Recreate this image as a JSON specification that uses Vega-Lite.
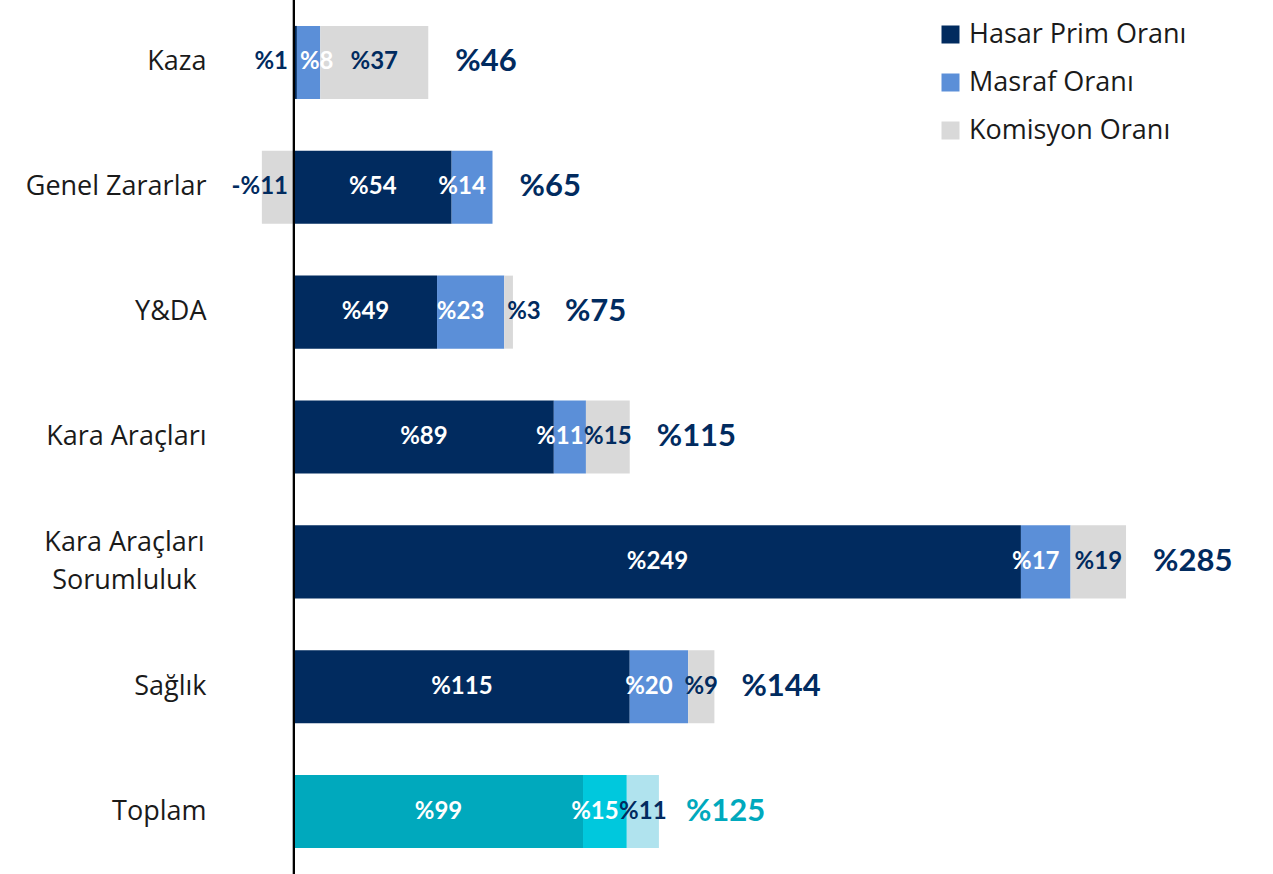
{
  "$schema": "https://vega.github.io/schema/vega-lite/v6.json",
  "width": 1051,
  "height": 874,
  "autosize": {"type": "none"},
  "padding": {"left": 221, "top": 0, "right": 1, "bottom": 0},
  "background": "white",
  "config": {"view": {"stroke": null}, "font": "Lato"},
  "data": {
    "values": [
      {"category": "Kaza", "series": "Hasar Prim Oranı", "value": 1, "total": 46},
      {"category": "Kaza", "series": "Masraf Oranı", "value": 8, "total": 46},
      {"category": "Kaza", "series": "Komisyon Oranı", "value": 37, "total": 46},
      {"category": "Genel Zararlar", "series": "Hasar Prim Oranı", "value": 54, "total": 65},
      {"category": "Genel Zararlar", "series": "Masraf Oranı", "value": 14, "total": 65},
      {"category": "Genel Zararlar", "series": "Komisyon Oranı", "value": -11, "total": 65},
      {"category": "Y&DA", "series": "Hasar Prim Oranı", "value": 49, "total": 75},
      {"category": "Y&DA", "series": "Masraf Oranı", "value": 23, "total": 75},
      {"category": "Y&DA", "series": "Komisyon Oranı", "value": 3, "total": 75},
      {"category": "Kara Araçları", "series": "Hasar Prim Oranı", "value": 89, "total": 115},
      {"category": "Kara Araçları", "series": "Masraf Oranı", "value": 11, "total": 115},
      {"category": "Kara Araçları", "series": "Komisyon Oranı", "value": 15, "total": 115},
      {"category": "Kara Araçları Sorumluluk", "series": "Hasar Prim Oranı", "value": 249, "total": 285},
      {"category": "Kara Araçları Sorumluluk", "series": "Masraf Oranı", "value": 17, "total": 285},
      {"category": "Kara Araçları Sorumluluk", "series": "Komisyon Oranı", "value": 19, "total": 285},
      {"category": "Sağlık", "series": "Hasar Prim Oranı", "value": 115, "total": 144},
      {"category": "Sağlık", "series": "Masraf Oranı", "value": 20, "total": 144},
      {"category": "Sağlık", "series": "Komisyon Oranı", "value": 9, "total": 144},
      {"category": "Toplam", "series": "Hasar Prim Oranı", "value": 99, "total": 125},
      {"category": "Toplam", "series": "Masraf Oranı", "value": 15, "total": 125},
      {"category": "Toplam", "series": "Komisyon Oranı", "value": 11, "total": 125}
    ]
  },
  "transform": [
    {"calculate": "indexof(['Hasar Prim Oranı','Masraf Oranı','Komisyon Oranı'], datum.series)", "as": "ord"},
    {"stack": "value", "groupby": ["category"], "sort": [{"field": "ord", "order": "ascending"}], "offset": "zero", "as": ["x0", "x1"]},
    {"calculate": "(datum.x0 + datum.x1) / 2", "as": "mid"},
    {"calculate": "(datum.value < 0 ? '-%' : '%') + abs(datum.value)", "as": "label"},
    {"calculate": "datum.category === 'Toplam' ? 'T ' + datum.series : datum.series", "as": "colorKey"}
  ],
  "layer": [
    {
      "mark": {"type": "bar"},
      "encoding": {
        "y": {
          "field": "category", "type": "nominal",
          "sort": ["Kaza", "Genel Zararlar", "Y&DA", "Kara Araçları", "Kara Araçları Sorumluluk", "Sağlık", "Toplam"],
          "scale": {"paddingInner": 0.415, "paddingOuter": 0.2075},
          "axis": {
            "title": null, "domain": false, "ticks": false,
            "labelPadding": {"condition": {"test": "datum.value === 'Kara Araçları Sorumluluk'", "value": 97}, "value": 15},
            "labelAlign": {"condition": {"test": "datum.value === 'Kara Araçları Sorumluluk'", "value": "center"}, "value": "right"},
            "labelOffset": {"condition": {"test": "datum.value === 'Kara Araçları Sorumluluk'", "value": -19}, "value": 0},
            "labelFontSize": 27, "labelColor": "#1a1a1a", "labelFont": "Open Sans",
            "labelLineHeight": 38, "labelLimit": 400,
            "labelExpr": "datum.value === 'Kara Araçları Sorumluluk' ? ['Kara Araçları', 'Sorumluluk'] : datum.value"
          }
        },
        "x": {"field": "x0", "type": "quantitative", "scale": {"domain": [-25, 335], "nice": false, "zero": false}, "axis": null},
        "x2": {"field": "x1"},
        "color": {
          "field": "colorKey", "type": "nominal",
          "scale": {
            "domain": ["Hasar Prim Oranı", "Masraf Oranı", "Komisyon Oranı", "T Hasar Prim Oranı", "T Masraf Oranı", "T Komisyon Oranı"],
            "range": ["#012B5F", "#5B8FD8", "#D9D9D9", "#00A9BD", "#00C8DD", "#B0E3EE"]
          },
          "legend": {
            "values": ["Hasar Prim Oranı", "Masraf Oranı", "Komisyon Oranı"],
            "title": null, "orient": "none", "legendX": 716, "legendY": 21,
            "symbolType": "square", "symbolSize": 324, "symbolStrokeWidth": 0,
            "labelFontSize": 27, "labelColor": "#1a1a1a", "labelFont": "Open Sans",
            "labelLimit": 400, "rowPadding": 20, "labelOffset": 5
          }
        }
      }
    },
    {
      "mark": {"type": "rule", "color": "#000000", "strokeWidth": 2},
      "encoding": {"x": {"datum": 0}}
    },
    {
      "transform": [{"filter": "(datum.ord === 0 && datum.value >= 2) || (datum.ord === 2 && datum.value >= 5)"}],
      "mark": {"type": "text", "align": "center", "baseline": "middle", "fontWeight": "bold", "fontSize": 24, "font": "Lato"},
      "encoding": {
        "y": {"field": "category", "type": "nominal", "sort": ["Kaza", "Genel Zararlar", "Y&DA", "Kara Araçları", "Kara Araçları Sorumluluk", "Sağlık", "Toplam"]},
        "x": {"field": "mid", "type": "quantitative"},
        "text": {"field": "label"},
        "color": {
          "condition": {"test": "datum.ord === 2", "value": "#012B5F"},
          "value": "#ffffff"
        }
      }
    },
    {
      "transform": [{"filter": "datum.ord === 1 && datum.value >= 10"}],
      "mark": {"type": "text", "align": "center", "baseline": "middle", "fontWeight": "bold", "fontSize": 24, "font": "Lato", "dx": -10, "color": "#ffffff"},
      "encoding": {
        "y": {"field": "category", "type": "nominal", "sort": ["Kaza", "Genel Zararlar", "Y&DA", "Kara Araçları", "Kara Araçları Sorumluluk", "Sağlık", "Toplam"]},
        "x": {"field": "mid", "type": "quantitative"},
        "text": {"field": "label"}
      }
    },
    {
      "transform": [{"filter": "(datum.ord === 1 && datum.value < 10) || (datum.ord === 2 && datum.value > 0 && datum.value < 5)"}],
      "mark": {"type": "text", "align": "left", "baseline": "middle", "fontWeight": "bold", "fontSize": 24, "font": "Lato", "dx": 3},
      "encoding": {
        "y": {"field": "category", "type": "nominal", "sort": ["Kaza", "Genel Zararlar", "Y&DA", "Kara Araçları", "Kara Araçları Sorumluluk", "Sağlık", "Toplam"]},
        "x": {"field": "x0", "type": "quantitative"},
        "text": {"field": "label"},
        "color": {
          "condition": {"test": "datum.ord === 2", "value": "#012B5F"},
          "value": "#ffffff"
        }
      }
    },
    {
      "transform": [{"filter": "datum.value < 0 || (datum.ord === 0 && datum.value < 2)"}],
      "mark": {"type": "text", "align": "right", "baseline": "middle", "fontWeight": "bold", "fontSize": 24, "font": "Lato", "dx": -6, "color": "#012B5F"},
      "encoding": {
        "y": {"field": "category", "type": "nominal", "sort": ["Kaza", "Genel Zararlar", "Y&DA", "Kara Araçları", "Kara Araçları Sorumluluk", "Sağlık", "Toplam"]},
        "x": {"datum": 0},
        "text": {"field": "label"}
      }
    },
    {
      "transform": [
        {"filter": "datum.value > 0"},
        {"joinaggregate": [{"op": "max", "field": "x1", "as": "end"}], "groupby": ["category"]},
        {"filter": "datum.x1 === datum.end && datum.value >= 5"},
        {"calculate": "'%' + datum.total", "as": "totalLabel"}
      ],
      "mark": {"type": "text", "align": "left", "baseline": "middle", "fontWeight": "bold", "fontSize": 31, "font": "Lato", "dx": 27},
      "encoding": {
        "y": {"field": "category", "type": "nominal", "sort": ["Kaza", "Genel Zararlar", "Y&DA", "Kara Araçları", "Kara Araçları Sorumluluk", "Sağlık", "Toplam"]},
        "x": {"field": "end", "type": "quantitative"},
        "text": {"field": "totalLabel"},
        "color": {
          "condition": {"test": "datum.category === 'Toplam'", "value": "#00A9BD"},
          "value": "#012B5F"
        }
      }
    },
    {
      "transform": [
        {"filter": "datum.value > 0"},
        {"joinaggregate": [{"op": "max", "field": "x1", "as": "end"}], "groupby": ["category"]},
        {"filter": "datum.x1 === datum.end && datum.value < 5"},
        {"calculate": "'%' + datum.total", "as": "totalLabel"}
      ],
      "mark": {"type": "text", "align": "left", "baseline": "middle", "fontWeight": "bold", "fontSize": 31, "font": "Lato", "dx": 52, "color": "#012B5F"},
      "encoding": {
        "y": {"field": "category", "type": "nominal", "sort": ["Kaza", "Genel Zararlar", "Y&DA", "Kara Araçları", "Kara Araçları Sorumluluk", "Sağlık", "Toplam"]},
        "x": {"field": "end", "type": "quantitative"},
        "text": {"field": "totalLabel"}
      }
    }
  ]
}
